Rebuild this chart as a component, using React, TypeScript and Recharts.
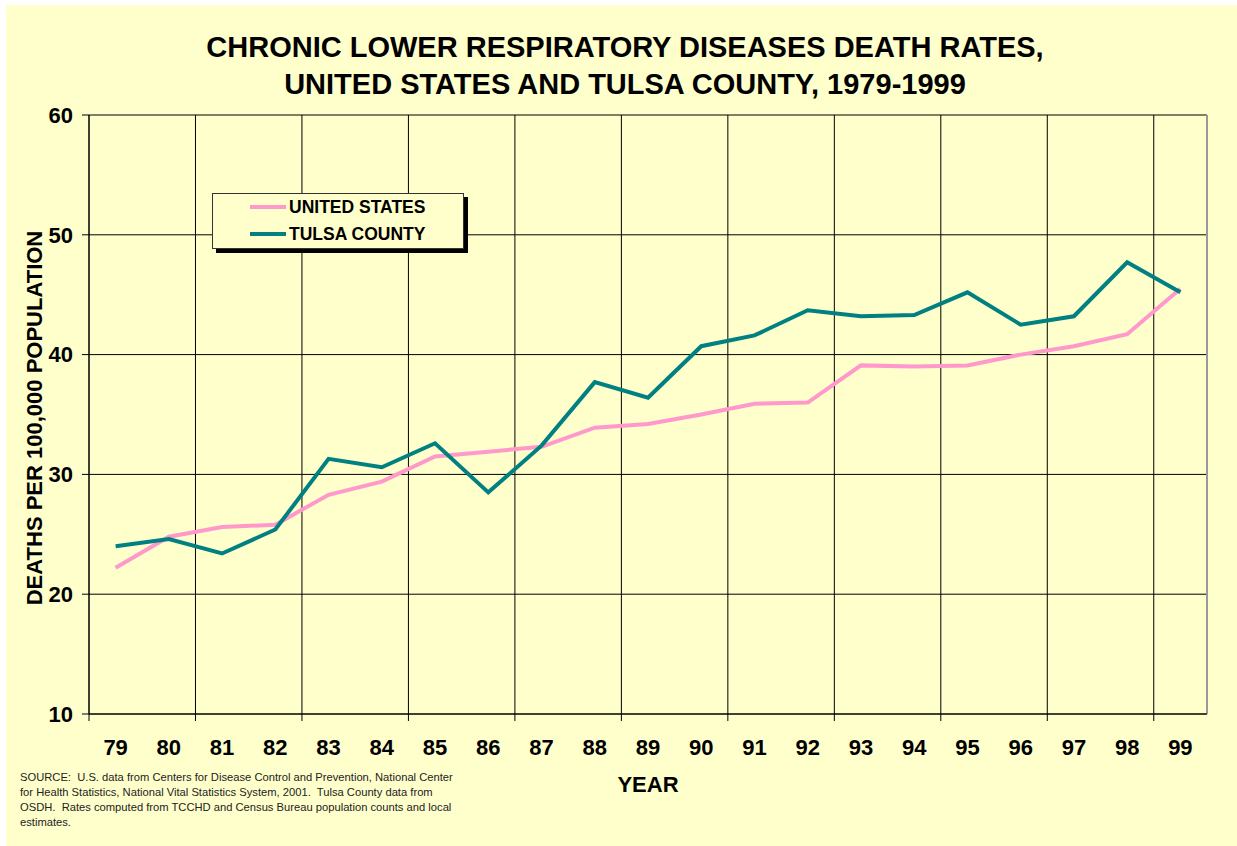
import {
  LineChart,
  Line,
  XAxis,
  YAxis,
  CartesianGrid,
  ReferenceLine,
  Legend,
} from 'recharts'

const YEARS = ['79', '80', '81', '82', '83', '84', '85', '86', '87', '88', '89', '90', '91', '92', '93', '94', '95', '96', '97', '98', '99']
const US_RATES = [22.2, 24.8, 25.6, 25.8, 28.3, 29.4, 31.5, 31.9, 32.3, 33.9, 34.2, 35.0, 35.9, 36.0, 39.1, 39.0, 39.1, 40.0, 40.7, 41.7, 45.5]
const TULSA_RATES = [24.0, 24.6, 23.4, 25.4, 31.3, 30.6, 32.6, 28.5, 32.4, 37.7, 36.4, 40.7, 41.6, 43.7, 43.2, 43.3, 45.2, 42.5, 43.2, 47.7, 45.2]
const Y_TICKS = [10, 20, 30, 40, 50, 60]
const SERIES_ORDER = ['UNITED STATES', 'TULSA COUNTY']

const FONT = '"Liberation Sans", Arial, sans-serif'
const BG = '#FFFFCC'
const US_COLOR = '#FF99CC'
const TULSA_COLOR = '#008080'

const data = YEARS.map((year, i) => ({
  idx: i,
  year,
  us: US_RATES[i],
  tulsa: TULSA_RATES[i],
}))

// grid lines sit on every second category boundary
const gridTicks = YEARS.map((_, i) => i - 0.5).filter((_, i) => i % 2 === 0)
const labelTicks = YEARS.map((_, i) => i)
const xDomain = [-0.5, YEARS.length - 0.5]

function YearTick({ x, y, payload }: any) {
  return (
    <text
      x={x}
      y={y + 33}
      textAnchor="middle"
      fontFamily={FONT}
      fontSize={22}
      fontWeight="bold"
      fill="#000"
    >
      {YEARS[payload.value]}
    </text>
  )
}

const EmptyTick = () => <g />

function LegendBox({ payload }: any) {
  const items = (payload || [])
    .slice()
    .sort((a: any, b: any) => SERIES_ORDER.indexOf(a.value) - SERIES_ORDER.indexOf(b.value))
  return (
    <div
      style={{
        width: 250,
        height: 54,
        border: '1px solid #333',
        background: BG,
        boxShadow: '4px 4px 0 #000',
        position: 'relative',
        fontFamily: FONT,
      }}
    >
      {items.map((item: any, i: number) => (
        <div
          key={item.value}
          style={{
            position: 'absolute',
            left: 37,
            top: 13 + i * 27 - 10,
            height: 20,
            display: 'flex',
            alignItems: 'center',
          }}
        >
          <div style={{ width: 36, height: 4, background: item.color }} />
          <span style={{ marginLeft: 3, fontSize: 17.5, fontWeight: 'bold', color: '#000' }}>
            {item.value}
          </span>
        </div>
      ))}
    </div>
  )
}

export default function App() {
  return (
    <div style={{ position: 'absolute', left: 0, top: 0, width: 1237, height: 846, background: '#fff' }}>
      <div style={{ position: 'absolute', left: 6, top: 5, width: 1231, height: 841, background: BG }} />

      <div
        style={{
          position: 'absolute',
          left: 0,
          top: 29,
          width: 1250,
          textAlign: 'center',
          fontFamily: FONT,
          fontSize: 29,
          fontWeight: 'bold',
          lineHeight: '37px',
          color: '#000',
        }}
      >
        CHRONIC LOWER RESPIRATORY DISEASES DEATH RATES,
        <br />
        UNITED STATES AND TULSA COUNTY, 1979-1999
      </div>

      <div style={{ position: 'absolute', left: 0, top: 0 }}>
        <LineChart
          width={1237}
          height={846}
          data={data}
          margin={{ top: 115, right: 30, bottom: 74, left: 29 }}
        >
          <CartesianGrid stroke="#000" strokeWidth={1} />
          <XAxis
            dataKey="idx"
            type="number"
            domain={xDomain}
            ticks={gridTicks}
            tick={<EmptyTick />}
            tickSize={7}
            height={8}
            stroke="#000"
            tickLine={{ stroke: '#000' }}
          />
          <XAxis
            xAxisId="lbl"
            dataKey="idx"
            type="number"
            domain={xDomain}
            ticks={labelTicks}
            interval={0}
            tick={<YearTick />}
            tickLine={false}
            axisLine={false}
            tickSize={0}
            tickMargin={0}
            height={50}
          />
          <YAxis
            type="number"
            domain={[10, 60]}
            ticks={Y_TICKS}
            width={60}
            tickSize={7}
            tickMargin={9}
            stroke="#000"
            tick={{ fill: '#000', fontSize: 22, fontWeight: 'bold', fontFamily: FONT }}
          />
          <ReferenceLine x={YEARS.length - 0.5} stroke="#999" strokeWidth={2} />
          <Legend
            layout="vertical"
            align="center"
            verticalAlign="middle"
            content={<LegendBox />}
            wrapperStyle={{ left: 212, top: 193, width: 256, height: 60 }}
          />
          <Line
            name="UNITED STATES"
            dataKey="us"
            stroke={US_COLOR}
            strokeWidth={4}
            dot={false}
            activeDot={false}
            isAnimationActive={false}
          />
          <Line
            name="TULSA COUNTY"
            dataKey="tulsa"
            stroke={TULSA_COLOR}
            strokeWidth={4}
            dot={false}
            activeDot={false}
            isAnimationActive={false}
          />
        </LineChart>
      </div>

      <div
        style={{
          position: 'absolute',
          left: -165,
          top: 405,
          width: 400,
          height: 26,
          lineHeight: '26px',
          textAlign: 'center',
          transform: 'rotate(-90deg)',
          fontFamily: FONT,
          fontSize: 22,
          fontWeight: 'bold',
          color: '#000',
        }}
      >
        DEATHS PER 100,000 POPULATION
      </div>

      <div
        style={{
          position: 'absolute',
          left: 548,
          top: 772,
          width: 200,
          lineHeight: '26px',
          textAlign: 'center',
          fontFamily: FONT,
          fontSize: 22,
          fontWeight: 'bold',
          color: '#000',
        }}
      >
        YEAR
      </div>

      <div
        style={{
          position: 'absolute',
          left: 20,
          top: 770,
          width: 470,
          fontFamily: FONT,
          fontSize: 11.2,
          lineHeight: '15px',
          color: '#222',
          whiteSpace: 'nowrap',
        }}
      >
        SOURCE:&nbsp; U.S. data from Centers for Disease Control and Prevention, National Center
        <br />
        for Health Statistics, National Vital Statistics System, 2001.&nbsp; Tulsa County data from
        <br />
        OSDH.&nbsp; Rates computed from TCCHD and Census Bureau population counts and local
        <br />
        estimates.
      </div>
    </div>
  )
}
